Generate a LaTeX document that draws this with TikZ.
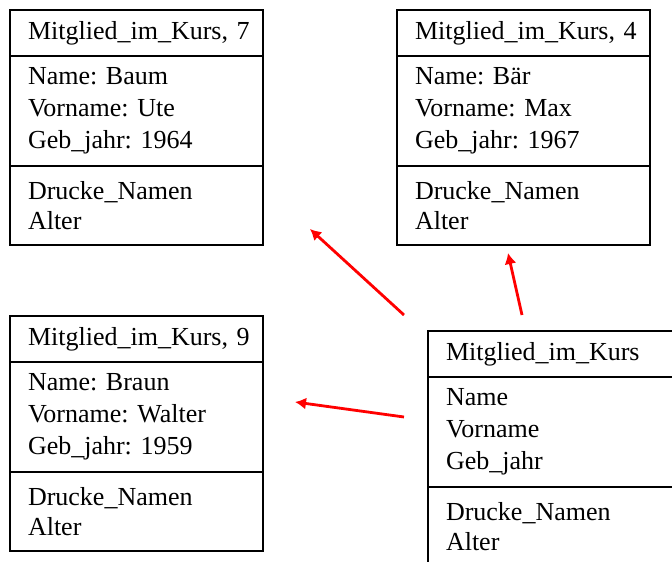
\documentclass[tikz,border=0pt]{standalone}
\usepackage{fontspec}
\setmainfont{Liberation Serif}
\usetikzlibrary{positioning,arrows.meta}
\frenchspacing

\tikzset{
  kopf/.style={draw, line width=1.3pt, outer sep=0pt, inner xsep=18pt, inner ysep=0pt, text width=217pt, align=left, minimum height=46pt},
  attr/.style={kopf, minimum height=110pt, font=\fontsize{26pt}{32pt}\selectfont},
  meth/.style={kopf, minimum height=79pt, font=\fontsize{26pt}{30pt}\selectfont},
  pfeil/.style={red, line width=2.8pt, -{Latex[length=11pt,width=12pt]}}
}

\begin{document}
\begin{tikzpicture}[x=1pt, y=-1pt, font=\fontsize{26pt}{31.5pt}\selectfont]
  \useasboundingbox (0,0) rectangle (672,562);
  \clip (0,0) rectangle (672,562);

  \node[kopf, anchor=north west] (k7) at (10,10) {Mitglied\_im\_Kurs,~7};
  \node[attr, below=0pt of k7] (a7) {Name: Baum\\Vorname: Ute\\Geb\_jahr: 1964};
  \node[meth, below=0pt of a7] (m7) {Drucke\_Namen\\Alter};

  \node[kopf, anchor=north west] (k4) at (397,10) {Mitglied\_im\_Kurs,~4};
  \node[attr, below=0pt of k4] (a4) {Name: Bär\\Vorname: Max\\Geb\_jahr: 1967};
  \node[meth, below=0pt of a4] (m4) {Drucke\_Namen\\Alter};

  \node[kopf, anchor=north west] (k9) at (10,316) {Mitglied\_im\_Kurs,~9};
  \node[attr, below=0pt of k9] (a9) {Name: Braun\\Vorname: Walter\\Geb\_jahr: 1959};
  \node[meth, below=0pt of a9] (m9) {Drucke\_Namen\\Alter};

  \node[kopf, anchor=north west] (kk) at (428,331) {Mitglied\_im\_Kurs};
  \node[attr, below=0pt of kk] (ak) {Name\\Vorname\\Geb\_jahr};
  \node[meth, below=0pt of ak] (mk) {Drucke\_Namen\\Alter};

  \coordinate (s7) at (404,315);
  \coordinate (z7) at (310,229);
  \coordinate (s4) at (522,315);
  \coordinate (z4) at (508,253);
  \coordinate (s9) at (404,417);
  \coordinate (z9) at (295,402);

  \draw[pfeil] (s7) -- (z7);
  \draw[pfeil] (s4) -- (z4);
  \draw[pfeil] (s9) -- (z9);
\end{tikzpicture}
\end{document}
